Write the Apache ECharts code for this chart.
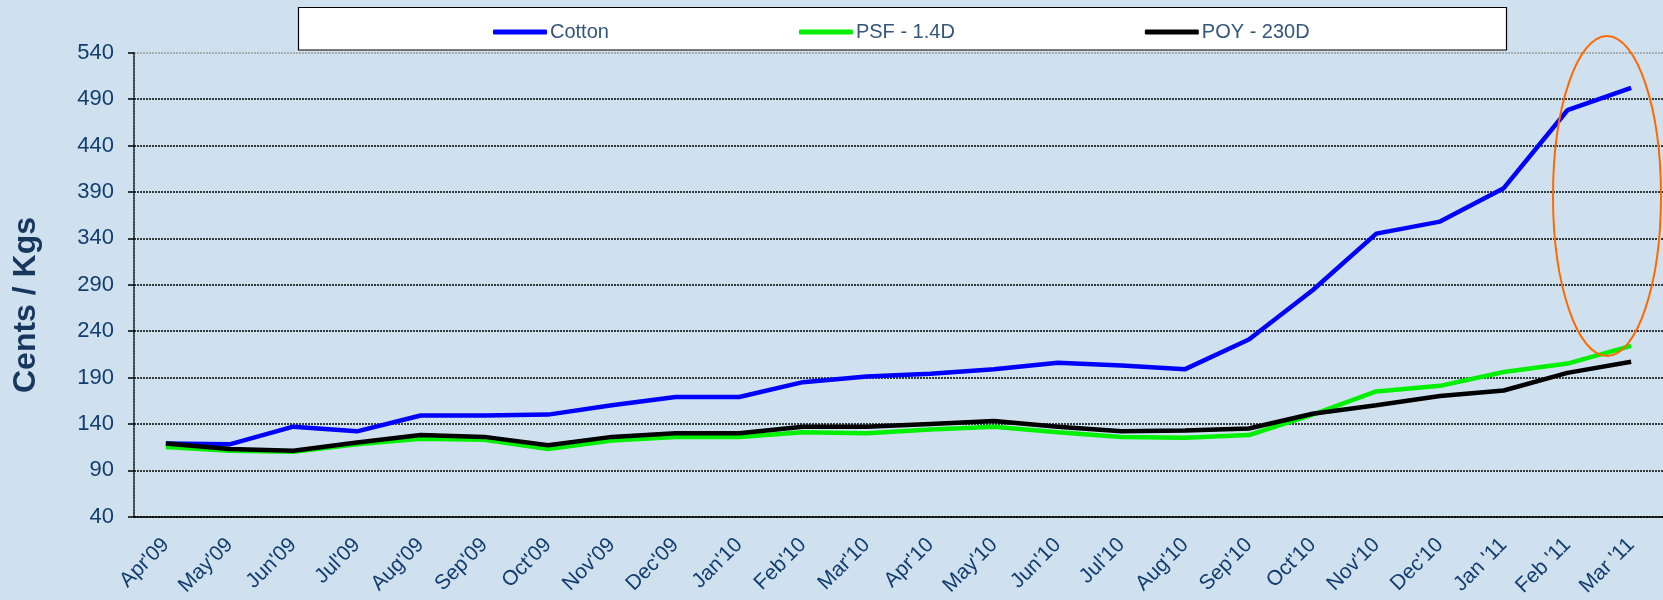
<!DOCTYPE html>
<html>
<head>
<meta charset="utf-8">
<script src="https://cdn.jsdelivr.net/npm/echarts@6/dist/echarts.min.js"></script>
<style>
html,body{margin:0;padding:0;background:#cfe1ef;}
#chart{width:1663px;height:600px;}
</style>
</head>
<body>
<div id="chart"></div>
<script>
var categories = ["Apr'09","May'09","Jun'09","Jul'09","Aug'09","Sep'09","Oct'09","Nov'09","Dec'09","Jan'10","Feb'10","Mar'10","Apr'10","May'10","Jun'10","Jul'10","Aug'10","Sep'10","Oct'10","Nov'10","Dec'10","Jan '11","Feb '11","Mar '11"];
var cotton = [119,118,137,132,149,149,150,160,169,169,185,191,194,199,206,203,199,231,284,345,358,394,478,502];
var psf = [115,111,110,118,124,123,113,122,126,126,131,130,134,137,131,126,125,128,150,175,181,196,205,224];
var poy = [119,113,111,120,128,126,117,126,130,130,137,137,140,143,137,132,133,135,151,160,170,176,195,207];
var seriesNames = ["Cotton","PSF - 1.4D","POY - 230D"];
var yTitle = "Cents / Kgs";

var chart = echarts.init(document.getElementById('chart'));
var labelColor = '#123d6e';
var gridColors = ['#000','#000','#000','#000','#000','#000','#000','#000','#000','#000','#9a9a9a'];
chart.setOption({
  backgroundColor: '#cfe1ef',
  animation: false,
  grid: {left: 134, right: -7, top: 52.7, bottom: 83.3, containLabel: false},
  graphic: [
    {type: 'rect', z: 0, shape: {x: 298.5, y: 7.5, width: 1208, height: 42.5},
     style: {fill: '#ffffff', stroke: '#000000', lineWidth: 1.2}},
    {type: 'text', z: 10, x: 26, y: 305, rotation: Math.PI / 2,
     style: {text: yTitle, fill: '#17375e', font: 'bold 32px "Liberation Sans", Arial, sans-serif',
             textAlign: 'center', textVerticalAlign: 'middle'}},
    {type: 'ellipse', z: 10, shape: {cx: 1607, cy: 196, rx: 54, ry: 160},
     style: {fill: 'none', stroke: '#ff6a00', lineWidth: 2}}
  ],
  legend: {
    left: 488, top: 17, z: 5,
    itemGap: 190, itemWidth: 54, itemHeight: 5, icon: 'roundRect',
    textStyle: {fontFamily: '"Liberation Sans", Arial, sans-serif', fontSize: 20, color: '#34557a', padding: [0,0,0,-2]},
    data: seriesNames
  },
  xAxis: {
    type: 'category', data: categories, boundaryGap: true,
    axisLine: {lineStyle: {color: '#000', width: 1.5}},
    axisTick: {length: 8, lineStyle: {color: '#000', width: 1.5}},
    axisLabel: {rotate: 45, interval: 0, margin: 25, color: labelColor,
      fontFamily: '"Liberation Sans", Arial, sans-serif', fontSize: 21},
    splitLine: {show: false}
  },
  yAxis: {
    type: 'value', min: 40, max: 540, interval: 50,
    axisLine: {show: true, lineStyle: {color: '#111', width: 1.5, type: [2,1]}},
    axisTick: {show: true, length: 6, lineStyle: {color: '#000', width: 1.5}},
    axisLabel: {margin: 20, color: labelColor, fontFamily: '"Liberation Sans", Arial, sans-serif', fontSize: 22},
    splitLine: {lineStyle: {color: gridColors, width: 1.5, type: [2,1]}}
  },
  series: [
    {name: seriesNames[0], type: 'line', data: cotton, symbol: 'none', color: '#0000ff',
     lineStyle: {width: 4.5, color: '#0000ff'}},
    {name: seriesNames[1], type: 'line', data: psf, symbol: 'none', color: '#00f000',
     lineStyle: {width: 4.5, color: '#00f000'}},
    {name: seriesNames[2], type: 'line', data: poy, symbol: 'none', color: '#000000',
     lineStyle: {width: 4.5, color: '#000000'}}
  ]
});
</script>
</body>
</html>
